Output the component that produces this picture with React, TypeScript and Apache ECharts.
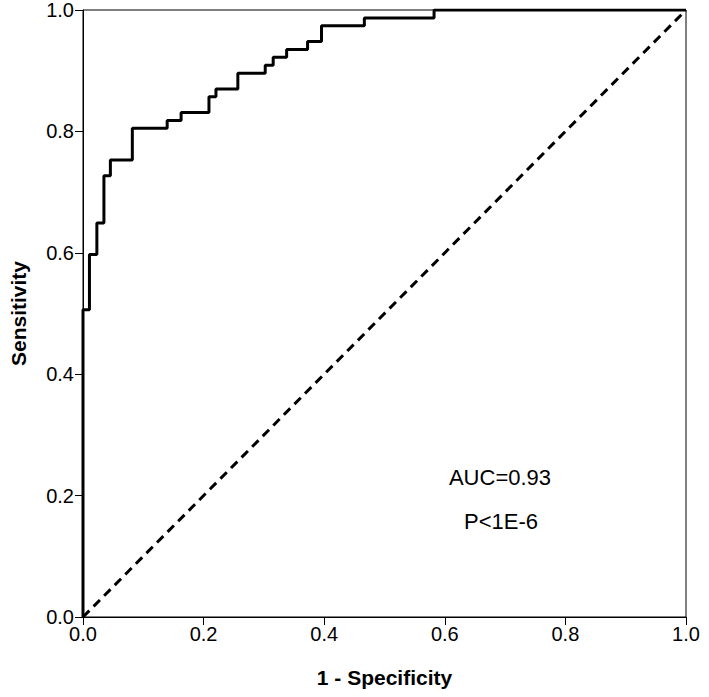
import React, { useEffect, useRef } from "react";
import * as echarts from "echarts";

const fprValues = [0, 0, 0.0107, 0.023, 0.0347, 0.0454, 0.0818, 0.1396, 0.1627, 0.2089, 0.2205, 0.2568, 0.3022, 0.3154, 0.3377, 0.3724, 0.3955, 0.4666, 0.5822, 1];
const tprValues = [0, 0.506, 0.597, 0.649, 0.727, 0.753, 0.805, 0.818, 0.831, 0.857, 0.870, 0.896, 0.909, 0.922, 0.935, 0.948, 0.974, 0.987, 1, 1];
const diagonalX = [0, 1];
const diagonalY = [0, 1];
const xAxisTitle = "1 - Specificity";
const yAxisTitle = "Sensitivity";
const aucText = "AUC=0.93";
const pText = "P<1E-6";

const FONT = "'Liberation Sans', Arial, sans-serif";

export default function App() {
  const ref = useRef<HTMLDivElement>(null);
  useEffect(() => {
    document.body.style.margin = "0";
    if (!ref.current) return;
    const chart = echarts.init(ref.current, undefined, { renderer: "svg" });
    const axisCommon = {
      type: "value" as const,
      min: 0,
      max: 1,
      interval: 0.2,
      nameLocation: "middle" as const,
      nameTextStyle: { fontFamily: FONT, fontWeight: "bold" as const, fontSize: 21, color: "#000" },
      axisLine: { show: true, onZero: false, lineStyle: { color: "#000", width: 1 } },
      axisTick: { show: true, inside: false, length: 8, lineStyle: { color: "#000", width: 1 } },
      axisLabel: {
        fontFamily: FONT,
        fontSize: 20,
        color: "#000",
        margin: 9,
        formatter: (v: number) => v.toFixed(1),
        showMinLabel: true,
        showMaxLabel: true,
      },
      splitLine: { show: false },
    };
    chart.setOption({
      animation: false,
      backgroundColor: "#fff",
      grid: {
        left: 80,
        top: 10,
        right: 23,
        bottom: 80,
        show: true,
        borderColor: "#000",
        borderWidth: 1,
        backgroundColor: "transparent",
      },
      xAxis: { ...axisCommon, name: xAxisTitle, nameGap: 50, axisLabel: { ...axisCommon.axisLabel, margin: 7 } },
      yAxis: { ...axisCommon, name: yAxisTitle, nameGap: 54 },
      series: [
        {
          type: "line",
          data: diagonalX.map((x, i) => [x, diagonalY[i]]),
          showSymbol: false,
          symbol: "none",
          lineStyle: { color: "#000", width: 3, type: [9, 6] },
          z: 2,
        },
        {
          type: "line",
          step: "end",
          data: fprValues.map((x, i) => [x, tprValues[i]]),
          showSymbol: false,
          symbol: "none",
          lineStyle: { color: "#000", width: 3 },
          z: 3,
        },
      ],
      graphic: [
        {
          type: "text",
          x: 500,
          y: 477,
          style: { text: aucText, fontFamily: FONT, fontSize: 22, fill: "#000", align: "center", verticalAlign: "middle" },
        },
        {
          type: "text",
          x: 501,
          y: 521,
          style: { text: pText, fontFamily: FONT, fontSize: 22, fill: "#000", align: "center", verticalAlign: "middle" },
        },
      ],
    });
    return () => chart.dispose();
  }, []);
  return <div ref={ref} style={{ width: 709, height: 697 }} />;
}
